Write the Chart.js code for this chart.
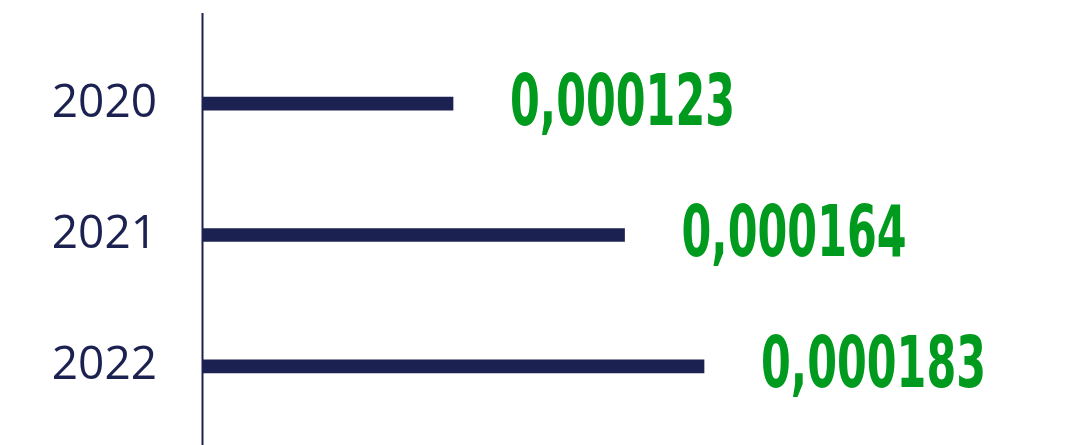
<!DOCTYPE html>
<html>
<head>
<meta charset="utf-8">
<script src="https://cdn.jsdelivr.net/npm/chart.js@4/dist/chart.umd.min.js"></script>
<style>
  html, body { margin: 0; padding: 0; background: #ffffff; }
  #wrap { position: relative; width: 1076px; height: 445px; }
</style>
</head>
<body>
<div id="wrap"><canvas id="c"></canvas></div>
<script>
const categories = ['2020', '2021', '2022'];
const values = [0.000123, 0.000164, 0.000183];
const valueLabels = ['0,000123', '0,000164', '0,000183'];
const axisMin = 0.00006323;
const axisMax = 0.0002681;

const NAVY = '#1b2150';
const GREEN = '#009a1e';

const axisLinePlugin = {
  id: 'axisLine',
  afterDraw(chart) {
    const ctx = chart.ctx;
    const x = chart.chartArea.left - 0.5;
    ctx.save();
    ctx.strokeStyle = NAVY;
    ctx.lineWidth = 2;
    ctx.beginPath();
    ctx.moveTo(x, 13);
    ctx.lineTo(x, chart.height);
    ctx.stroke();
    ctx.restore();
  }
};

const valueLabelPlugin = {
  id: 'valueLabels',
  afterDatasetsDraw(chart) {
    const ctx = chart.ctx;
    const meta = chart.getDatasetMeta(0);
    const size = 71;
    ctx.save();
    ctx.fillStyle = GREEN;
    ctx.font = "bold " + size + "px 'Liberation Sans Narrow', 'DejaVu Sans Condensed', 'Liberation Sans', sans-serif";
    ctx.textAlign = 'left';
    ctx.textBaseline = 'alphabetic';
    meta.data.forEach((bar, i) => {
      const txt = valueLabels[i];
      const w = ctx.measureText(txt).width;
      const target = size * 3.17;
      const sx = Math.min(1, target / w);
      ctx.save();
      ctx.translate(bar.x + 57, bar.y + 21);
      ctx.scale(sx, 1);
      ctx.fillText(txt, 0, 0);
      ctx.restore();
    });
    ctx.restore();
  }
};

new Chart(document.getElementById('c'), {
  type: 'bar',
  data: {
    labels: categories,
    datasets: [{
      data: values,
      backgroundColor: NAVY,
      borderWidth: 0,
      barThickness: 13
    }]
  },
  options: {
    indexAxis: 'y',
    responsive: true,
    maintainAspectRatio: false,
    animation: false,
    layout: { padding: { top: 38, bottom: 13, left: 0, right: 16 } },
    plugins: { legend: { display: false }, tooltip: { enabled: false } },
    scales: {
      x: {
        display: false,
        min: axisMin,
        max: axisMax
      },
      y: {
        grid: { display: false, drawTicks: false },
        border: { display: false },
        ticks: {
          color: NAVY,
          padding: 46,
          font: { family: "'Open Sans', 'Noto Sans', sans-serif", size: 46 }
        },
        afterFit(scale) {
          scale.width = 203;
          scale.paddingTop = 0;
          scale.paddingBottom = 0;
        }
      }
    }
  },
  plugins: [axisLinePlugin, valueLabelPlugin]
});
</script>
</body>
</html>
